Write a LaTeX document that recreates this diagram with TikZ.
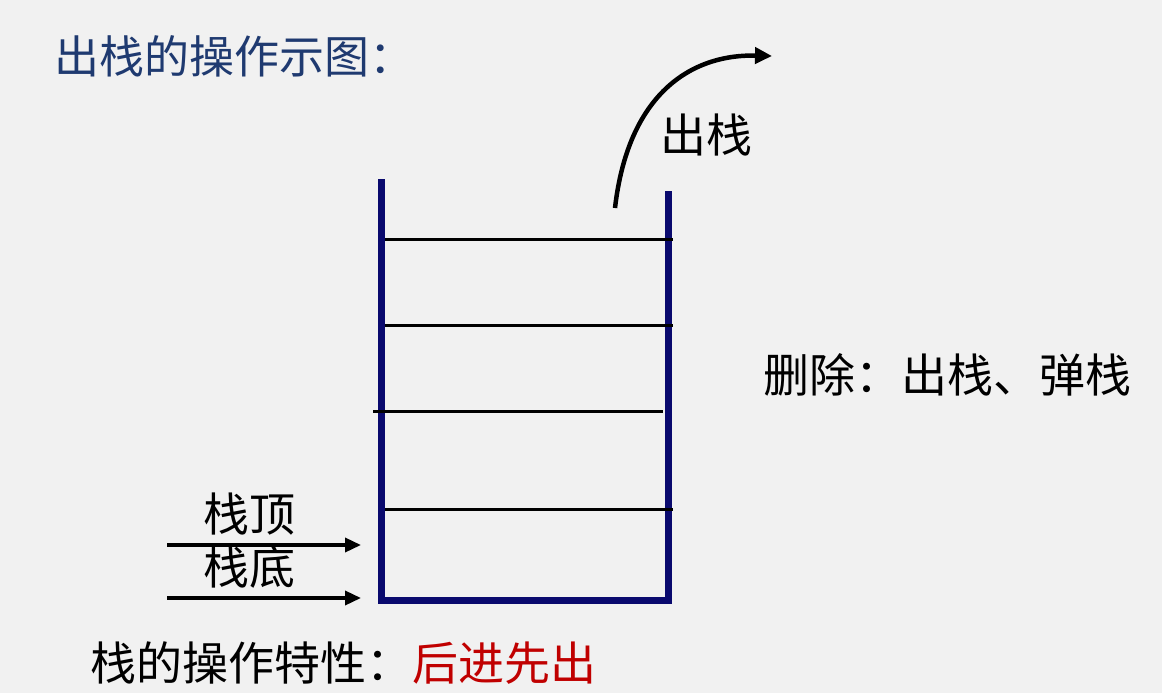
\documentclass[tikz,border=0pt]{standalone}
\usepackage{fontspec}
\setmainfont{Noto Sans CJK SC}
\usepackage{tikz}
\usetikzlibrary{arrows.meta,positioning}
\definecolor{StackNavy}{HTML}{0A0A6E}
\definecolor{TitleBlue}{HTML}{1F3A70}
\definecolor{RuleRed}{HTML}{C00000}
\definecolor{SlideGray}{HTML}{F1F1F1}
\tikzset{
  wall/.style={line width=7pt,draw=StackNavy,line join=miter},
  slot/.style={line width=3pt,draw=black},
  ptr/.style={-{Triangle[length=16pt,width=14pt]},line width=3.5pt,draw=black},
  popcurve/.style={-{Triangle[length=17pt,width=16pt]},line width=4.5pt,draw=black},
  txt/.style={inner sep=0pt,font=\fontsize{46}{52}\selectfont},
}

\begin{document}
\begin{tikzpicture}[x=1pt,y=-1pt]
  % slide background
  \fill[SlideGray] (0,0) rectangle (1162,693);
  \useasboundingbox (0,0) rectangle (1162,693);

  % title
  \node[txt, font=\fontsize{45}{50}\selectfont, text=TitleBlue, anchor=west] (title) at (54,56) {出栈的操作示图：};

  % stack walls
  \coordinate (lefttop) at (381,179);
  \coordinate (leftbot) at (381,600);
  \coordinate (rightbot) at (668,600);
  \coordinate (righttop) at (668,191);
  \draw[wall] (lefttop) -- (leftbot) -- (rightbot) -- (righttop);

  % slots
  \foreach \y/\xa/\xb in {239/385/673, 325/385/673, 411/373/663, 509/385/673}
    \draw[slot] (\xa,\y) -- (\xb,\y);

  % pop arrow
  \coordinate (popfrom) at (615,208);
  \coordinate (popto) at (772,56);
  \draw[popcurve] (popfrom) .. controls (628,95) and (690,54) .. (popto);
  \node[txt] (poplbl) at (706,135) {出栈};

  % note on the right
  \node[txt, anchor=west] (delnote) at (763,375) {删除：出栈、弹栈};

  % top and bottom pointers
  \coordinate (topfrom) at (167,545);
  \coordinate (topto) at (361,545);
  \coordinate (botfrom) at (167,598);
  \coordinate (botto) at (361,598);
  \draw[ptr] (topfrom) -- (topto);
  \draw[ptr] (botfrom) -- (botto);
  \node[txt] (toplbl) at (249,514) {栈顶};
  \node[txt] (botlbl) at (249,567) {栈底};

  % rule
  \node[txt, anchor=west] (rule) at (90,663) {栈的操作特性：\textcolor{RuleRed}{后进先出}};
\end{tikzpicture}
\end{document}
